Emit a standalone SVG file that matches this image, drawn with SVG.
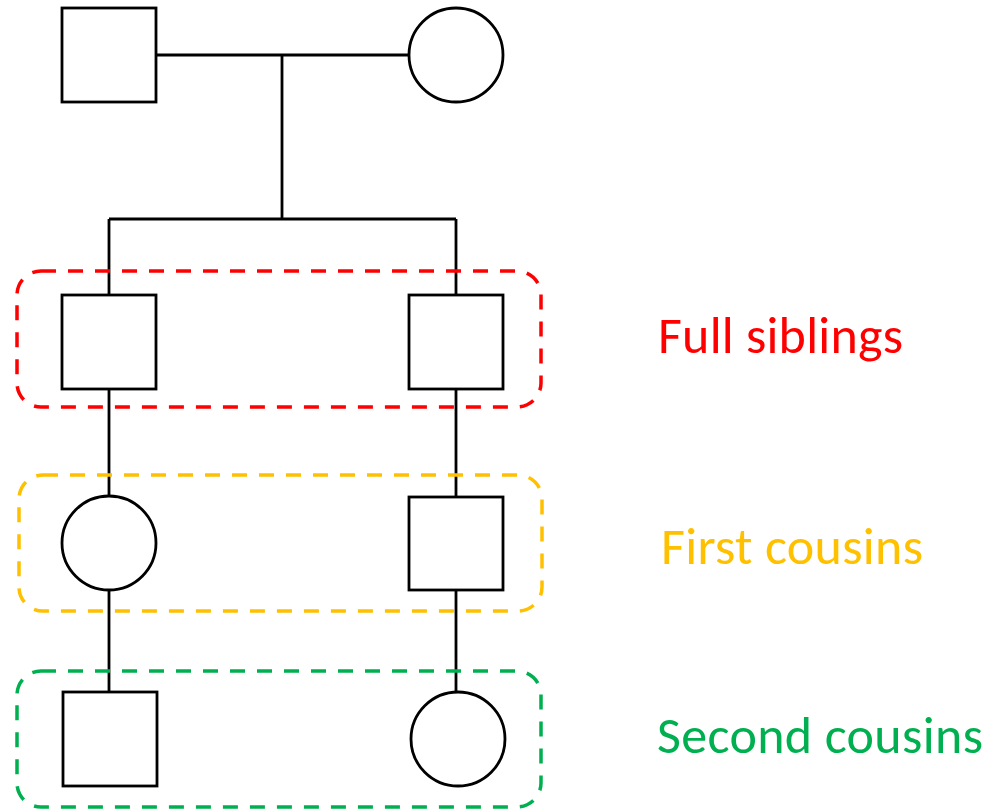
<svg xmlns="http://www.w3.org/2000/svg" width="992" height="810" viewBox="0 0 992 810">
<style>
.n{fill:#fff;stroke:#000;stroke-width:2.8}
.c{fill:none;stroke:#000;stroke-width:2.8}
.g{fill:none;stroke-width:3.5;stroke-dasharray:15 12}
.t{font-family:Carlito,"Noto Sans","Open Sans",sans-serif;font-size:52px}
</style>
<rect width="992" height="810" fill="#fff"/>
<g id="connectors">
<path class="c" d="M156,55H409M282,55V219M109,219H456M109,219V295M456,219V295M109,389V496M456,389V497M109,590V692M456,590V692"/>
</g>
<g id="groups">
<rect class="g" x="17" y="271" width="524" height="136" rx="24" stroke="#FF0000"/>
<rect class="g" x="19" y="475" width="523" height="136" rx="24" stroke="#FFC000"/>
<rect class="g" x="17" y="671" width="524" height="136" rx="24" stroke="#00B050"/>
</g>
<g id="father"><rect class="n" x="62" y="8" width="94" height="94"/></g>
<g id="mother"><circle class="n" cx="456" cy="55" r="47"/></g>
<g id="sibling1"><rect class="n" x="62" y="295" width="94" height="94"/></g>
<g id="sibling2"><rect class="n" x="409" y="295" width="94" height="94"/></g>
<g id="cousin1"><circle class="n" cx="109" cy="543" r="47"/></g>
<g id="cousin2"><rect class="n" x="409" y="497" width="94" height="93"/></g>
<g id="second1"><rect class="n" x="63" y="692" width="94" height="94"/></g>
<g id="second2"><circle class="n" cx="458" cy="739" r="47"/></g>
<g id="labels">
<text class="t" x="658" y="353" fill="#FF0000" textLength="245">Full siblings</text>
<text class="t" x="661" y="564" fill="#FFC000" textLength="262">First cousins</text>
<text class="t" x="657" y="753" fill="#00B050" textLength="326">Second cousins</text>
</g>
</svg>
